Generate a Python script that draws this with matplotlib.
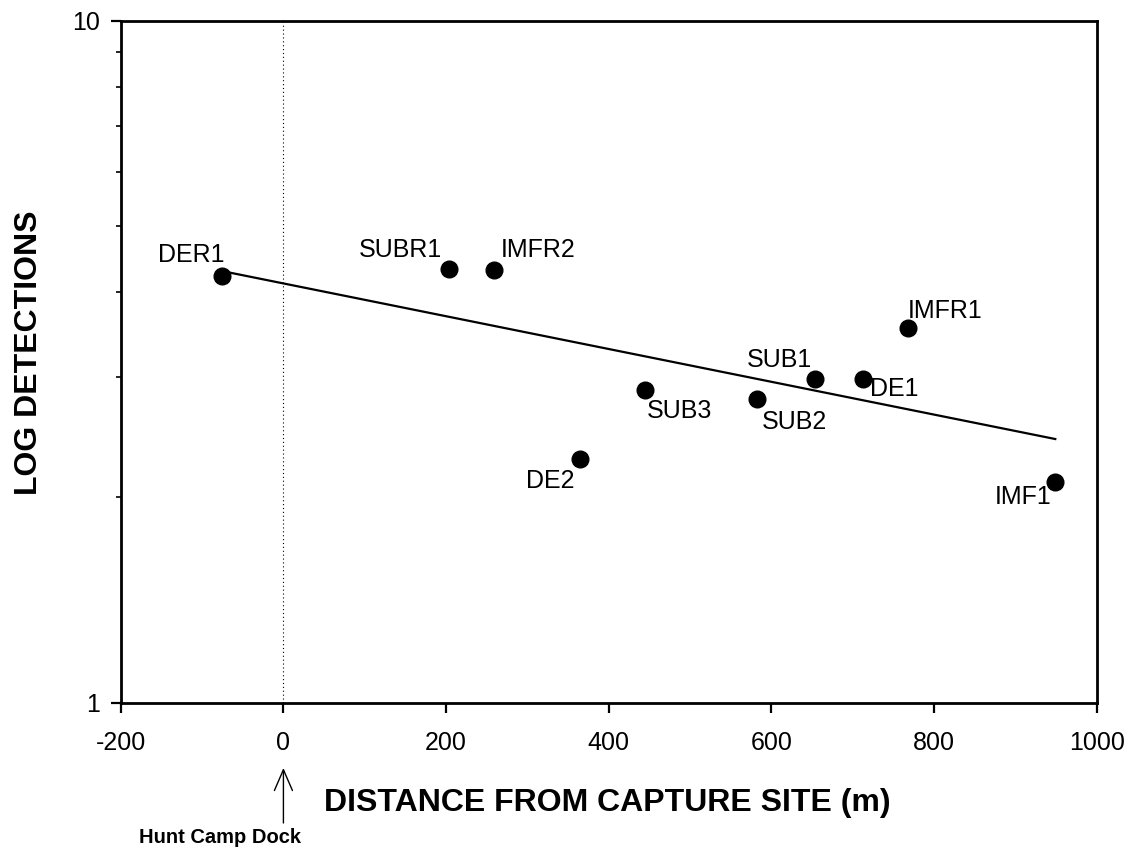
import numpy as np
import matplotlib
matplotlib.use("Agg")
import matplotlib.pyplot as plt
from matplotlib.ticker import LogLocator, NullFormatter, FixedLocator, FixedFormatter

plt.rcParams['font.family'] = ['Liberation Sans', 'DejaVu Sans']
plt.rcParams['axes.unicode_minus'] = False

# ---- data ----
sites = ["DER1", "SUBR1", "IMFR2", "IMFR1", "SUB1", "DE1", "SUB3", "SUB2", "DE2", "IMF1"]
distance_m = [-75, 203, 259, 768, 654, 712, 445, 582, 365, 949]
detections = [4.22, 4.32, 4.31, 3.54, 2.98, 2.98, 2.87, 2.79, 2.28, 2.11]
x_ticks = [-200, 0, 200, 400, 600, 800, 1000]
y_ticks = [1, 10]
y_tick_labels = ["1", "10"]

# ---- layout (label offsets in pixels: dx, dy, ha) ----
label_layout = {
    "DER1": (2, 14, "right"),
    "SUBR1": (-6, 12, "right"),
    "IMFR2": (7, 13, "left"),
    "IMFR1": (0, 10, "left"),
    "SUB1": (-3, 12, "right"),
    "DE1": (7, -17, "left"),
    "SUB3": (1, -28, "left"),
    "SUB2": (5, -30, "left"),
    "DE2": (-6, -29, "right"),
    "IMF1": (-4, -22, "right"),
}

fig = plt.figure(figsize=(11.37, 8.51), dpi=100)
ax = fig.add_axes([0.1062, 0.1743, 0.8584, 0.8014])

x = np.array(distance_m, dtype=float)
y = np.array(detections, dtype=float)

# regression of log10(detections) on distance
slope, intercept = np.polyfit(x, np.log10(y), 1)
xl = np.array([x.min(), x.max()])
ax.plot(xl, 10 ** (intercept + slope * xl), color='black', lw=1.6, zorder=2)

ax.plot(x, y, 'o', color='black', markersize=12, zorder=3)

for s, xi, yi in zip(sites, x, y):
    dx, dy, ha = label_layout[s]
    ax.annotate(s, xy=(xi, yi), xytext=(dx, dy), textcoords='offset pixels',
                ha=ha, va='baseline', fontsize=18, zorder=4)

# dotted vertical line at dock
ax.axvline(0, color='black', lw=0.8, ls=(0, (1, 2.5)), zorder=1)

ax.set_xscale('linear')
ax.set_yscale('log')
ax.set_xlim(-200, 1000)
ax.set_ylim(1, 10)

ax.xaxis.set_major_locator(FixedLocator(x_ticks))
ax.set_xticklabels([str(v) for v in x_ticks])
ax.yaxis.set_major_locator(FixedLocator(y_ticks))
ax.yaxis.set_major_formatter(FixedFormatter(y_tick_labels))
ax.yaxis.set_minor_locator(LogLocator(base=10, subs=np.arange(2, 10)))
ax.yaxis.set_minor_formatter(NullFormatter())
ax.xaxis.set_minor_locator(FixedLocator([]))

ax.tick_params(axis='both', which='major', direction='out', length=7.2, width=1.6,
               labelsize=18, top=False, right=False)
ax.tick_params(axis='x', which='major', pad=13)
ax.tick_params(axis='y', which='major', pad=8)
ax.tick_params(axis='y', which='minor', direction='out', length=3.6, width=1.2,
               left=True, right=False)

for sp in ax.spines.values():
    sp.set_linewidth(2.0)

ax.set_xlabel("DISTANCE FROM CAPTURE SITE (m)", fontsize=23, fontweight='bold')
ax.xaxis.label.set_va('baseline')
ax.xaxis.set_label_coords(0.4988, -0.1588)

ax.set_ylabel("LOG DETECTIONS", fontsize=23, fontweight='bold')
ax.yaxis.label.set_va('baseline')
ax.yaxis.set_label_coords(-0.0858, 0.513)

# Hunt Camp Dock arrow and text
ax.annotate('', xy=(0, -0.0957), xycoords=('data', 'axes fraction'),
            xytext=(0, -0.1764), textcoords=('data', 'axes fraction'),
            arrowprops=dict(arrowstyle='->,head_length=1.5,head_width=0.65',
                            lw=1.0, color='black', shrinkA=0, shrinkB=0),
            annotation_clip=False)
ax.annotate('Hunt Camp Dock', xy=(0.1018, -0.2057), xycoords='axes fraction',
            ha='center', va='baseline', fontsize=14.5, fontweight='bold',
            annotation_clip=False)

fig.savefig('out.png', dpi=100)
